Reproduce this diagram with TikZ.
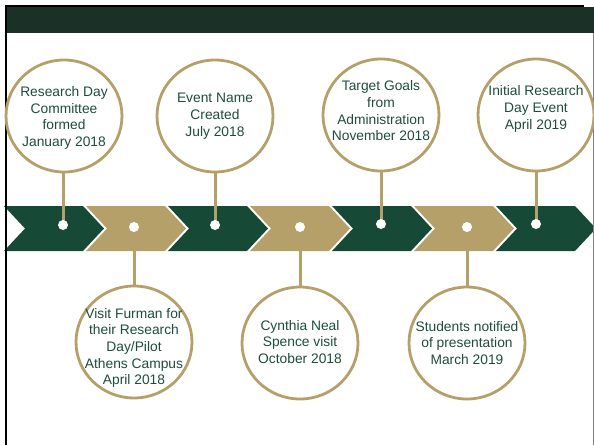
\documentclass[tikz,border=0pt]{standalone}
\usepackage{fontspec}
\setmainfont{Liberation Sans}
\usetikzlibrary{shapes.geometric}
\definecolor{dkgreen}{HTML}{174A36}
\definecolor{barg}{HTML}{1A3127}
\definecolor{tanc}{HTML}{B4A068}
\definecolor{txtg}{HTML}{1F4D3B}
\definecolor{edgegray}{HTML}{808080}
\pgfdeclarelayer{bg}
\pgfsetlayers{bg,main}
\tikzset{
  bubble/.style={ellipse, draw=tanc, line width=2.8pt, fill=white,
    minimum width=116pt, minimum height=112pt, inner sep=0pt},
  btext/.style={text=txtg, font=\fontsize{13.8}{16.7}\selectfont, align=center, inner sep=0pt},
  wdot/.style={circle, fill=white, minimum size=10pt, inner sep=0pt},
  stem/.style={draw=tanc, line width=3pt},
}
\begin{document}
\begin{tikzpicture}[x=1pt,y=-1pt]
\useasboundingbox (0,0) rectangle (594,445);
\begin{scope}
\clip (7,0) rectangle (594,445);
% chevrons
\begin{pgfonlayer}{bg}
\foreach \x/\c in {4/dkgreen,86/tanc,168/dkgreen,250/tanc,332/dkgreen,414/tanc,496/dkgreen}
  \fill[\c] (\x,206) -- ++(79,0) -- ++(21,22.5) -- ++(-21,22.5) -- ++(-79,0) -- ++(21,-22.5) -- cycle;
\end{pgfonlayer}
\end{scope}
% frame
\fill[barg] (7,7) rectangle (594,33);
\draw[black, line width=2pt] (5,6) -- (584,6);
\draw[black, line width=2pt] (6,5) -- (6,445);
\draw[edgegray, line width=0.8pt] (593.4,33) -- (593.4,445);
% dot positions
\coordinate (p1) at (63,225);
\coordinate (p2) at (134,227);
\coordinate (p3) at (215,225);
\coordinate (p4) at (300,227);
\coordinate (p5) at (381,224);
\coordinate (p6) at (467,227);
\coordinate (p7) at (536,224);
% bubbles
\node[bubble] (c1) at (64,116) {};
\node[bubble] (c2) at (134,342) {};
\node[bubble] (c3) at (215,116) {};
\node[bubble] (c4) at (300,343) {};
\node[bubble] (c5) at (381,115) {};
\node[bubble] (c6) at (467,343) {};
\node[bubble] (c7) at (536,115) {};
% stems
\begin{pgfonlayer}{bg}
\foreach \i in {1,...,7} \draw[stem] (p\i) -- (p\i |- c\i.center);
\end{pgfonlayer}
% dots
\foreach \i in {1,...,7} \node[wdot] (d\i) at (p\i) {};
% texts
\node[btext] (t1) at (64,118) {Research Day\\Committee\\formed\\January 2018};
\node[btext] (t2) at (134,348) {Visit Furman for\\their Research\\Day/Pilot\\Athens Campus\\April 2018};
\node[btext] (t3) at (215,116) {Event Name\\Created\\July 2018};
\node[btext] (t4) at (300,342) {Cynthia Neal\\Spence visit\\October 2018};
\node[btext] (t5) at (381,111) {Target Goals\\from\\Administration\\November 2018};
\node[btext] (t6) at (467,343) {Students notified\\of presentation\\March 2019};
\node[btext] (t7) at (536,109) {Initial Research\\Day Event\\April 2019};
\end{tikzpicture}
\end{document}
